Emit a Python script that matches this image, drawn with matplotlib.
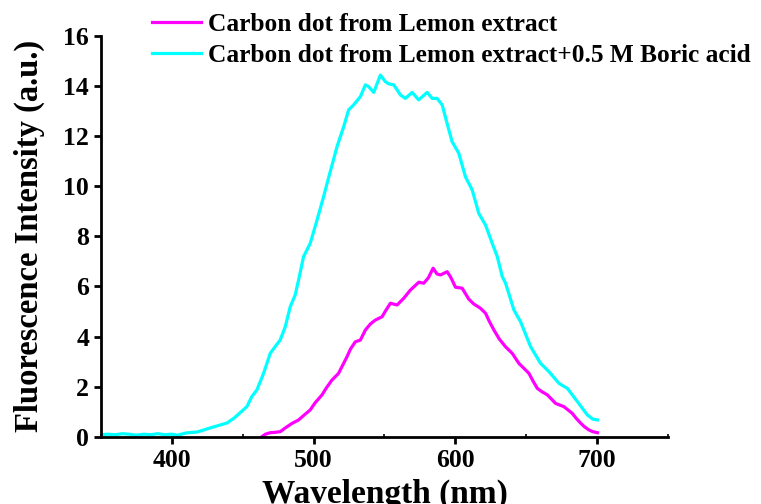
import matplotlib
matplotlib.use("Agg")
from matplotlib import pyplot as plt
from matplotlib.ticker import MultipleLocator

# Carbon dot from lemon extract
wl_cd = [463.5, 466, 469.4, 472, 476.4, 480, 484.7, 489.4, 493, 497.6, 501, 505.9,
         509, 512.9, 517.6, 520, 523.5, 526, 529.4, 533, 536.5, 540, 543.6, 548.3,
         551, 554.2, 558.9, 563.6, 568.3, 571, 574.2, 577.7, 581, 584.3, 587, 589.5,
         594.2, 596.5, 600.1, 604.8, 609.5, 613, 617.7, 621.3, 624, 627.2, 631,
         635.4, 640.1, 644.8, 648, 651.9, 655, 657.8, 661, 664.9, 670.7, 676.6,
         682.5, 685, 688.4, 691, 694.2, 697, 700.2]
int_cd = [0.0, 0.1, 0.16, 0.17, 0.2, 0.35, 0.53, 0.67, 0.85, 1.07, 1.35, 1.67,
          1.95, 2.26, 2.53, 2.8, 3.19, 3.5, 3.79, 3.86, 4.26, 4.5, 4.66, 4.79,
          5.05, 5.33, 5.26, 5.53, 5.86, 6.0, 6.17, 6.13, 6.35, 6.73, 6.5, 6.46,
          6.59, 6.39, 5.97, 5.93, 5.49, 5.3, 5.13, 4.93, 4.6, 4.26, 3.9,
          3.59, 3.33, 2.93, 2.75, 2.53, 2.2, 1.93, 1.8, 1.67, 1.33, 1.20,
          0.93, 0.75, 0.54, 0.4, 0.27, 0.2, 0.16]

# Carbon dot from lemon extract + 0.5 M boric acid
wl_cdb = [350, 355, 360, 365, 370, 375, 380, 385, 390, 395, 400, 404, 410, 418,
          427, 433, 439, 444, 448, 452.9, 456.4, 460, 464.7, 469.4, 472.9, 476.4,
          480, 483.5, 487, 489.4, 492.9, 497.6, 502.4, 507, 510.6, 516.5, 521.2,
          524.7, 528.2, 533, 536.5, 538.8, 542.4, 547.1, 550.6, 553, 556.5, 558.9,
          561.2, 564.7, 569.5, 574.1, 580.1, 583.6, 587.1, 590.7, 594.2, 597.7,
          602.4, 607.1, 611.9, 616.5, 621.3, 626, 629.5, 633.1, 635.4, 641.3, 646,
          653.1, 660.1, 666, 673.1, 679, 686.1, 693.1, 697, 700.2]
int_cdb = [0.08, 0.1, 0.08, 0.12, 0.1, 0.06, 0.1, 0.08, 0.12, 0.08, 0.1, 0.06,
           0.15, 0.19, 0.35, 0.45, 0.55, 0.75, 0.95, 1.2, 1.6, 1.87, 2.53, 3.33,
           3.6, 3.86, 4.39, 5.19, 5.66, 6.26, 7.19, 7.72, 8.65, 9.58, 10.35, 11.58,
           12.38, 13.05, 13.25, 13.58, 14.05, 13.98, 13.75, 14.44, 14.18, 14.09,
           14.05, 13.85, 13.65, 13.51, 13.75, 13.45, 13.75, 13.51, 13.51, 13.25,
           12.5, 11.78, 11.32, 10.38, 9.85, 8.92, 8.45, 7.72, 7.2, 6.39, 6.13,
           5.06, 4.59, 3.59, 2.93, 2.6, 2.13, 1.93, 1.40, 0.87, 0.7, 0.67]

labels = ["Carbon dot from Lemon extract",
          "Carbon dot from Lemon extract+0.5 M Boric acid"]

plt.rcParams["font.family"] = "Liberation Serif"
plt.rcParams["font.weight"] = "bold"

fig = plt.figure(figsize=(7.61, 5.04), dpi=100)
ax = fig.add_axes([0.1327, 0.1335, 0.7451, 0.795])

ax.plot(wl_cd, int_cd, color="#FF00FF", lw=2.3, label=labels[0])
ax.plot(wl_cdb, int_cdb, color="#00FFFF", lw=2.3, label=labels[1])

ax.set_xlim(350, 750)
ax.set_ylim(0, 16)
ax.xaxis.set_major_locator(MultipleLocator(100))
ax.xaxis.set_minor_locator(MultipleLocator(50))
ax.yaxis.set_major_locator(MultipleLocator(2))

for s in ["top", "right"]:
    ax.spines[s].set_visible(False)
for s in ["left", "bottom"]:
    ax.spines[s].set_linewidth(2.0)

ax.tick_params(axis="both", which="major", direction="out", length=5, width=2,
               labelsize=18.5)
ax.tick_params(axis="x", which="minor", direction="in", length=2.5, width=1.2)
ax.set_xticks([400, 500, 600, 700])

# the reference also clips the bottom of this label
ax.set_xlabel("Wavelength (nm)", fontsize=24, fontweight="bold", labelpad=5)
ax.set_ylabel("Fluorescence Intensity (a.u.)", fontsize=23.5, fontweight="bold",
              labelpad=13)

leg = fig.legend(loc="upper left", bbox_to_anchor=(0.187, 0.995), frameon=False,
                 fontsize=18.3, handlelength=1.9, handletextpad=0.28,
                 labelspacing=0.32, borderaxespad=0)
for t in leg.get_texts():
    t.set_fontweight("bold")

plt.savefig("out.png", dpi=100)
